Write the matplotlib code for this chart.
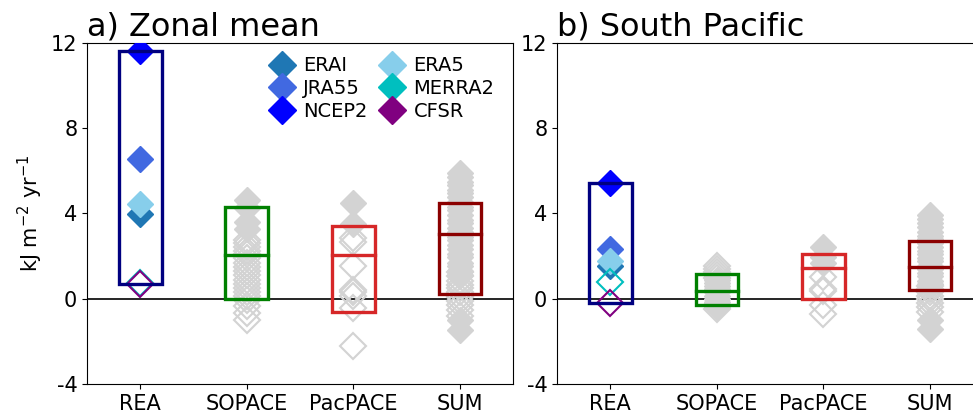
import numpy as np
import matplotlib.pyplot as plt
from matplotlib.lines import Line2D

plt.rcParams['axes.unicode_minus'] = False

cats = ['REA', 'SOPACE', 'PacPACE', 'SUM']
rea_names = ['ERAI', 'JRA55', 'NCEP2', 'ERA5', 'MERRA2', 'CFSR']
rea_colors = ['#1f77b4', 'royalblue', 'blue', 'skyblue', 'c', 'purple']
rea_filled = [True, True, True, True, False, False]
box_colors = ['navy', 'green', '#d62728', 'darkred']

# a) zonal mean
rea_zm = [3.97, 6.55, 11.6, 4.45, 0.72, 0.68]
sop_zm_fill = [4.65, 4.25, 3.6, 3.25]
sop_zm_open = [2.75, 2.6, 2.45, 2.25, 2.1, 1.9, 1.7, 1.5, 1.3, 1.1, 0.9, 0.7,
               0.5, 0.3, 0.15, -0.05, -0.35, -0.65, -1.0]
pac_zm_fill = [4.5, 3.5]
pac_zm_open = [2.85, 2.65, 1.55, 0.4, 0.3, 0.12, -0.45, -2.2]
sum_zm_fill = [5.9, 5.7, 5.5, 5.35, 5.1, 4.95, 4.75, 4.55, 4.3, 4.15, 3.95, 3.7,
               3.55, 3.3, 3.15, 2.9, 2.75, 2.5, 2.35, 2.1, 1.95, 1.7, 1.55, 1.3,
               1.1, -1.0, -1.45]
sum_zm_open = [1.25, 1.05, 0.85, 0.65, 0.5, 0.3, 0.1, -0.1, -0.3, -0.55, -0.8]
box_zm_lo = [0.7, 0.0, -0.6, 0.2]
box_zm_hi = [11.6, 4.3, 3.4, 4.5]
box_zm_mid = [None, 2.05, 2.07, 3.04]

# b) South Pacific
rea_sp = [1.55, 2.33, 5.43, 1.78, 0.8, -0.22]
sop_sp_fill = [0.9, 0.75, 0.6, 0.45, 0.3, 0.15, 0.0, -0.15, -0.4]
sop_sp_open = [1.55, 1.4, 1.25, 1.1, 0.95, -0.3, -0.5]
pac_sp_fill = [2.45, 1.95, 1.7]
pac_sp_open = [1.0, 0.45, 0.35, -0.3, -0.7]
sum_sp_fill = [3.95, 3.75, 3.55, 3.35, 3.15, 2.95, 2.8, 2.6, 2.45, 2.25, 2.1,
               1.9, 1.75, 1.55, 1.4, 1.2, 1.05, 0.85, 0.7, -1.0, -1.4]
sum_sp_open = [0.6, 0.45, 0.3, 0.15, 0.0, -0.2, -0.4, -0.6]
box_sp_lo = [-0.22, -0.28, 0.0, 0.42]
box_sp_hi = [5.43, 1.16, 2.1, 2.72]
box_sp_mid = [None, 0.38, 1.44, 1.5]

ms = 13
gray = 'lightgray'

fig = plt.figure(figsize=(9.73, 4.19), dpi=100)
ax1 = fig.add_axes([0.0894, 0.0835, 0.438, 0.814])
ax2 = fig.add_axes([0.5725, 0.0835, 0.438, 0.814])


def panel(ax, rea, members, lo, hi, mid, title):
    ax.axhline(0, color='k', lw=1.2, zorder=1)
    for i, (fill, opn) in enumerate(members):
        x = i + 2
        ax.plot([x] * len(opn), opn, 'D', ms=ms, mfc='none', mec=gray, mew=1.5, zorder=2)
        ax.plot([x] * len(fill), fill, 'D', ms=ms, color=gray, zorder=2)
    for v, c, f in zip(rea, rea_colors, rea_filled):
        if f:
            ax.plot(1, v, 'D', ms=ms, color=c, zorder=3)
        else:
            ax.plot(1, v, 'D', ms=ms, mfc='none', mec=c, mew=1.5, zorder=3)
    for i in range(4):
        ax.bar(i + 1, hi[i] - lo[i], bottom=lo[i], width=0.4, fill=False,
               edgecolor=box_colors[i], lw=2.4, zorder=4)
        if mid[i] is not None:
            ax.plot([i + 0.8, i + 1.2], [mid[i], mid[i]], color=box_colors[i],
                    lw=2.4, zorder=4)
    ax.set_xlim(0.5, 4.5)
    ax.set_ylim(-4, 12)
    ax.set_yticks([-4, 0, 4, 8, 12])
    ax.set_xticks([1, 2, 3, 4])
    ax.set_xticklabels(cats)
    ax.tick_params(labelsize=15)
    ax.set_title(title, loc='left', fontsize=23, pad=5)


panel(ax1, rea_zm, [(sop_zm_fill, sop_zm_open), (pac_zm_fill, pac_zm_open),
                    (sum_zm_fill, sum_zm_open)],
      box_zm_lo, box_zm_hi, box_zm_mid, 'a) Zonal mean')
panel(ax2, rea_sp, [(sop_sp_fill, sop_sp_open), (pac_sp_fill, pac_sp_open),
                    (sum_sp_fill, sum_sp_open)],
      box_sp_lo, box_sp_hi, box_sp_mid, 'b) South Pacific')
ax1.set_ylabel('kJ m$^{-2}$ yr$^{-1}$', fontsize=15)

handles = [Line2D([], [], marker='D', ls='none', ms=ms + 1, color=c) for c in rea_colors]
ax1.legend(handles, rea_names, ncol=2,
           frameon=False, fontsize=14, loc='upper right', bbox_to_anchor=(0.997, 1.012),
           handletextpad=0.35, columnspacing=0.5, labelspacing=0.2, handlelength=1.5)

fig.savefig('out.png', dpi=100)
